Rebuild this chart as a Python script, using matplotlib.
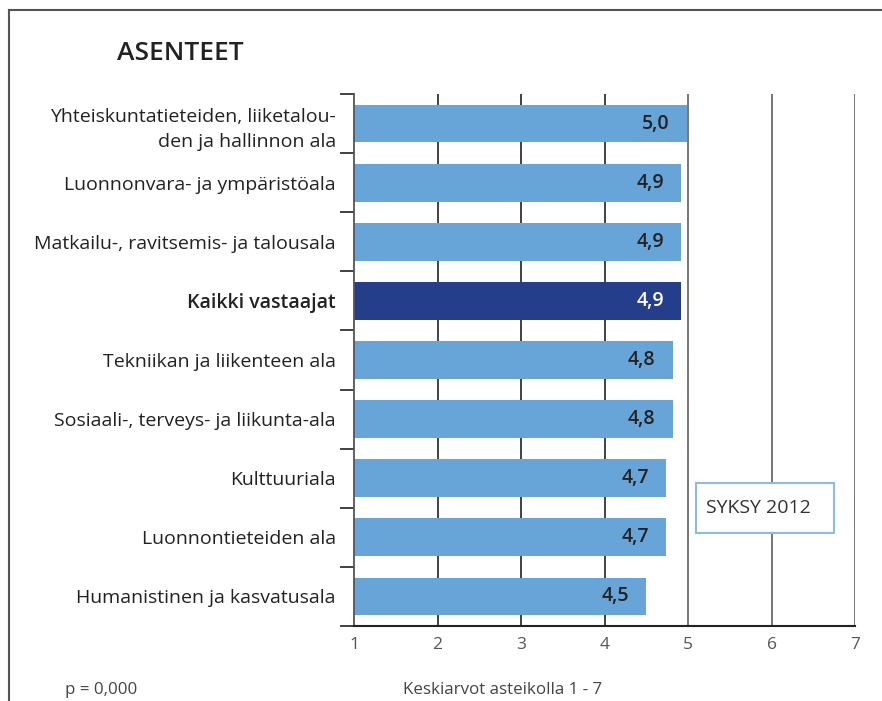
import matplotlib.pyplot as plt
from matplotlib.patches import Rectangle
from matplotlib.lines import Line2D

plt.rcParams["font.family"] = ["Open Sans", "DejaVu Sans"]

# data
categories = [
    "Yhteiskuntatieteiden, liiketalou-\nden ja hallinnon ala",
    "Luonnonvara- ja ympäristöala",
    "Matkailu-, ravitsemis- ja talousala",
    "Kaikki vastaajat",
    "Tekniikan ja liikenteen ala",
    "Sosiaali-, terveys- ja liikunta-ala",
    "Kulttuuriala",
    "Luonnontieteiden ala",
    "Humanistinen ja kasvatusala",
]
values = [4.99, 4.92, 4.92, 4.92, 4.82, 4.82, 4.74, 4.74, 4.50]
highlight = "Kaikki vastaajat"
x_ticks = [1, 2, 3, 4, 5, 6, 7]

LIGHT = "#67a4d8"
DARK = "#243e8c"
TEXT = "#222222"

fig = plt.figure(figsize=(8.82, 7.01), dpi=100)
ax = fig.add_axes([354 / 882, 1 - 626 / 701, (855 - 354) / 882, (626 - 94) / 701])

ypos = list(range(len(categories)))
colors = [DARK if c == highlight else LIGHT for c in categories]

# gridlines
for x in x_ticks[1:]:
    ax.axvline(x, color="#333333" if x < 5 else "#6a6a6a", linewidth=1.3, zorder=0)

bars = ax.barh(ypos, [v - 1 for v in values], left=1, height=0.64, color=colors, zorder=2)

for y, v, c in zip(ypos, values, categories):
    txt = f"{v:.1f}".replace(".", ",")
    ax.text(v - 0.21, y, txt, ha="right", va="center", fontsize=14, fontweight="semibold",
            color="white" if c == highlight else TEXT, zorder=3)

ax.set_xlim(1, 7)
ax.set_ylim(len(categories) - 0.5, -0.5)
ax.set_xticks(x_ticks)
ax.tick_params(axis="x", length=0, pad=8, labelsize=12.5, labelcolor="#555555")

ax.set_yticks(ypos)
ax.set_yticklabels(categories, fontsize=14, color=TEXT, linespacing=1.5)
for lab in ax.get_yticklabels():
    lab.set_horizontalalignment("right")
    if lab.get_text() == highlight:
        lab.set_fontweight("semibold")
ax.tick_params(axis="y", length=0, pad=13)
ax.set_yticks([y + 0.5 for y in [-1] + ypos], minor=True)
ax.tick_params(axis="y", which="minor", length=10, width=1.3, color="#333333")

for s in ["top", "right"]:
    ax.spines[s].set_visible(False)
ax.spines["left"].set_color("#555555")
ax.spines["left"].set_linewidth(1.3)
ax.spines["bottom"].set_color("#222222")
ax.spines["bottom"].set_linewidth(1.5)

# frame
fig.add_artist(Line2D([9 / 882, 9 / 882], [0, 1 - 10 / 701], color="#555555", linewidth=1.5))
fig.add_artist(Line2D([9 / 882, 1], [1 - 10 / 701, 1 - 10 / 701], color="#555555", linewidth=1.5))

fig.text(117 / 882, 1 - 53 / 701, "ASENTEET", fontsize=19, fontweight="semibold",
         color=TEXT, va="center", ha="left")

# legend box
fig.add_artist(Rectangle((696 / 882, 1 - 533 / 701), 138 / 882, 50 / 701,
                         transform=fig.transFigure, facecolor="white",
                         edgecolor="#8dbbe3", linewidth=1.5, zorder=5))
fig.text(706 / 882, 1 - 508 / 701, "SYKSY 2012", fontsize=14, color="#333333",
         va="center", ha="left", zorder=6)

fig.text(65 / 882, 1 - 690 / 701, "p = 0,000", fontsize=12.2, color="#444444", va="center")
fig.text(403 / 882, 1 - 690 / 701, "Keskiarvot asteikolla 1 - 7", fontsize=12.2,
         color="#444444", va="center")

fig.savefig("out.png", dpi=100)
